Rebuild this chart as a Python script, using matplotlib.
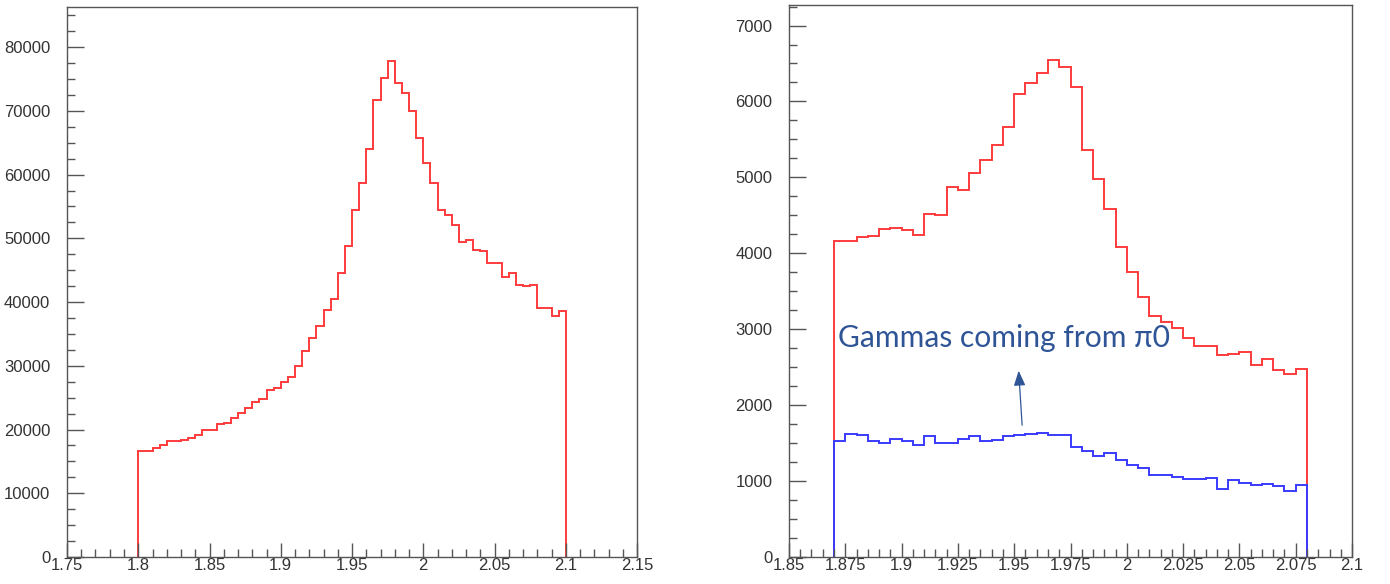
import numpy as np
import matplotlib
matplotlib.use("Agg")
import matplotlib.pyplot as plt
from matplotlib.ticker import MultipleLocator, FormatStrFormatter

# left histogram: 60 bins of 0.005 between 1.8 and 2.1
left_lo, left_hi, left_nbins = 1.8, 2.1, 60
left_counts = [
    16700, 16700, 17150, 17550, 18150, 18150, 18300, 18600, 19150, 19900,
    19900, 20800, 21050, 21750, 22650, 23350, 24250, 24800, 26250, 26450,
    27450, 28250, 30050, 32250, 34400, 36200, 38700, 40500, 44600, 48800,
    54500, 58700, 64000, 71650, 75100, 77800, 74400, 72750, 70050, 65750,
    61900, 58700, 54500, 53650, 52050, 49350, 49700, 48200, 48000, 46100,
    46100, 43950, 44500, 42650, 42450, 42650, 39050, 39050, 37800, 38650,
]

# right histogram: 42 bins of 0.005 between 1.87 and 2.08
right_lo, right_hi, right_nbins = 1.87, 2.08, 42
right_all = [
    4160, 4160, 4210, 4230, 4315, 4335, 4310, 4240, 4515, 4500,
    4875, 4840, 5060, 5225, 5420, 5665, 6100, 6240, 6375, 6545,
    6455, 6195, 5360, 4985, 4580, 4080, 3760, 3425, 3180, 3090,
    3015, 2880, 2785, 2785, 2660, 2680, 2695, 2525, 2605, 2465,
    2405, 2470,
]
right_pi0 = [
    1525, 1620, 1605, 1525, 1505, 1550, 1525, 1475, 1590, 1505,
    1505, 1555, 1590, 1525, 1540, 1590, 1610, 1620, 1635, 1610,
    1610, 1445, 1390, 1330, 1365, 1275, 1215, 1170, 1075, 1075,
    1055, 1030, 1030, 1045, 890, 1010, 980, 955, 965, 930,
    870, 950,
]

note_text = "Gammas coming from \u03c00"

red = "#ff3b3b"
blue = "#3a3aff"
frame = "#555555"
label_col = "#333333"


def root_style(ax, xlim, ylim, xmaj, xmin, ymaj, ymin, xfmt):
    ax.set_xlim(*xlim)
    ax.set_ylim(*ylim)
    ax.xaxis.set_major_locator(MultipleLocator(xmaj))
    ax.xaxis.set_minor_locator(MultipleLocator(xmin))
    ax.yaxis.set_major_locator(MultipleLocator(ymaj))
    ax.yaxis.set_minor_locator(MultipleLocator(ymin))
    ax.xaxis.set_major_formatter(xfmt)
    ax.yaxis.set_major_formatter(FormatStrFormatter("%d"))
    ax.tick_params(which="both", direction="in", color=frame, width=1.0,
                   top=False, right=False, labelsize=12, labelcolor=label_col)
    ax.tick_params(axis="x", which="major", length=10)
    ax.tick_params(axis="y", which="major", length=12)
    ax.tick_params(which="minor", length=5.5)
    ax.tick_params(axis="y", which="both", pad=12)
    ax.tick_params(axis="x", which="both", pad=1)
    for s in ax.spines.values():
        s.set_color(frame)
        s.set_linewidth(1.0)
    for lab in ax.get_xticklabels() + ax.get_yticklabels():
        lab.set_family(["Liberation Sans", "DejaVu Sans"])


def trim_fmt(x, pos):
    s = ("%.3f" % x).rstrip("0").rstrip(".")
    return s


fig = plt.figure(figsize=(13.9, 5.84), dpi=100)
ax1 = fig.add_axes([0.0482, 0.0462, 0.4101, 0.9418])
ax2 = fig.add_axes([0.5676, 0.0462, 0.4051, 0.9452])

left_edges = np.linspace(left_lo, left_hi, left_nbins + 1)
ax1.stairs(left_counts, left_edges, color=red, linewidth=1.4, baseline=0)
root_style(ax1, (1.75, 2.15), (0, 86300), 0.05, 0.01, 10000, 2500,
           plt.FuncFormatter(trim_fmt))

right_edges = np.linspace(right_lo, right_hi, right_nbins + 1)
ax2.stairs(right_all, right_edges, color=red, linewidth=1.4, baseline=0)
ax2.stairs(right_pi0, right_edges, color=blue, linewidth=1.4, baseline=0)
root_style(ax2, (1.85, 2.1), (0, 7270), 0.025, 0.005, 1000, 250,
           plt.FuncFormatter(trim_fmt))

ax2.text(1.8718, 2760, note_text, color="#2f5597", fontsize=21.6,
         family=["Lato", "DejaVu Sans"], va="baseline", ha="left")
ax2.annotate("", xy=(1.9519, 2490), xytext=(1.9536, 1700),
             arrowprops=dict(arrowstyle="-|>,head_length=0.9,head_width=0.35",
                             color="#2f5597", lw=0.9))

fig.savefig("out.png", dpi=100)
